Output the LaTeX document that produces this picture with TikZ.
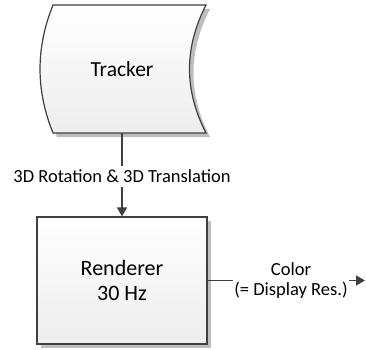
\documentclass[tikz,border=0pt]{standalone}
\usepackage{fontspec}
\setmainfont{Carlito}
\usepackage{tikz}
\usetikzlibrary{positioning,arrows.meta}

\definecolor{edgegray}{HTML}{404040}
\definecolor{shadowgray}{HTML}{BEBEBE}

\begin{document}
\begin{tikzpicture}[x=1pt, y=1pt,
    block/.style={draw=edgegray, line width=1.2pt, top color=white, bottom color=black!7},
    shade/.style={fill=shadowgray, draw=none},
    conn/.style={draw=edgegray, line width=1.4pt, -{Triangle[width=10pt,length=9pt]}},
    lbl/.style={fill=white, inner xsep=1pt, inner ysep=4pt, align=center, font=\fontsize{18.5}{20}\selectfont}]
            \useasboundingbox (0,0) rectangle (366,349);
            % tracker shape (shadow first)
            \fill[shade, shift={(4,-4)}] (53,344) -- (206,344) .. controls (184,301) and (184,259) .. (206,216)
                -- (53,216) .. controls (35.7,259) and (35.7,301) .. cycle;
            \draw[block] (53,344) -- (206,344) .. controls (184,301) and (184,259) .. (206,216)
                -- (53,216) .. controls (35.7,259) and (35.7,301) .. cycle;
            \node[minimum height=128pt, font=\fontsize{21.5}{25}\selectfont] (tracker) at (122,280) {Tracker};
            % renderer box
            \fill[shade] (41,1) rectangle (211,128);
            \node[block, minimum width=170pt, minimum height=127pt, align=center,
                font=\fontsize{22}{25}\selectfont] (renderer) at (122,68.5) {Renderer\\30 Hz};
            \coordinate (out) at (365,68.5);
            % connectors
            \draw[conn] (tracker) -- (renderer) node[lbl, pos=0.52] {3D Rotation \& 3D Translation};
            \draw[conn] (renderer) -- (out) node[lbl, pos=0.53] {Color\\(= Display Res.)};
        \end{tikzpicture}
\end{document}
